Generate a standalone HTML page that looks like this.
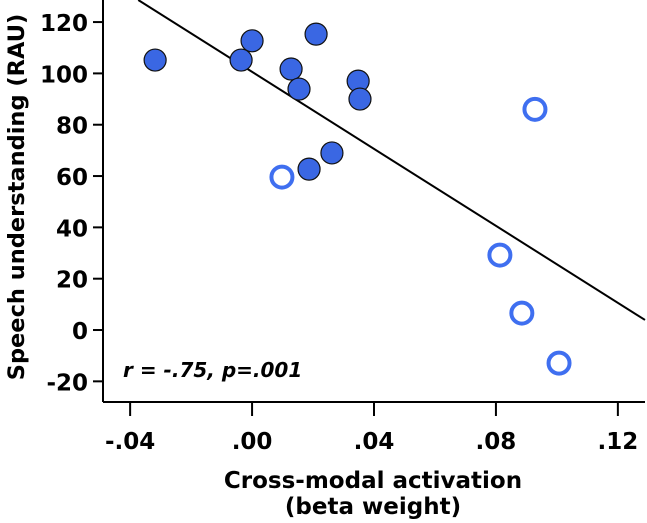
<!DOCTYPE html>
<html><head><meta charset="utf-8"><style>
html,body{margin:0;padding:0;background:#fff;}
svg{display:block;font-family:"DejaVu Sans","Liberation Sans",sans-serif;}
</style></head><body>
<svg id="chart" width="647" height="523" viewBox="0 0 647 523">
<g id="axes"></g>
<g id="marks"></g>
</svg>
<script>
const filledX = [-0.0318, 0.0, -0.0036, 0.021, 0.0128, 0.0154, 0.0187, 0.0262, 0.0348, 0.0354];
const filledY = [105.2, 112.7, 105.2, 115.3, 101.7, 93.9, 62.7, 69.0, 97.0, 90.0];
const openX = [0.0098, 0.0928, 0.0813, 0.0885, 0.1007];
const openY = [59.6, 86.0, 29.2, 6.6, -12.9];
const xTicks = [-0.04, 0.0, 0.04, 0.08, 0.12];
const xTickLabels = ["-.04", ".00", ".04", ".08", ".12"];
const yTicks = [-20, 0, 20, 40, 60, 80, 100, 120];
const fitIntercept = [100.6];
const fitSlope = [-750];

const NS = "http://www.w3.org/2000/svg";
const L = 103, R = 645, T = 0, B = 402;
const xMin = -0.0489, xMax = 0.1289, yMin = -28.05, yMax = 128.6;
const sx = v => L + (v - xMin) / (xMax - xMin) * (R - L);
const sy = v => B - (v - yMin) / (yMax - yMin) * (B - T);
function mk(tag, attrs, parent) {
  const e = document.createElementNS(NS, tag);
  for (const k in attrs) e.setAttribute(k, attrs[k]);
  parent.appendChild(e);
  return e;
}
const axes = document.getElementById("axes");
const marks = document.getElementById("marks");

let e = mk("line", {x1: L, y1: T, x2: L, y2: B, stroke: "#000", "stroke-width": 2}, axes);


e = mk("line", {x1: L, y1: B, x2: R, y2: B, stroke: "#000", "stroke-width": 2}, axes);



yTicks.forEach(v => {
  const y = sy(v);
  let t = mk("line", {x1: L - 10, y1: y, x2: L, y2: y, stroke: "#000", "stroke-width": 2}, axes);
  
  
  let lb = mk("text", {x: L - 15, y: y + 9, "text-anchor": "end", "font-size": 23, "font-weight": "bold"}, axes);
  lb.textContent = String(v);
  
  
});
xTicks.forEach((v, i) => {
  const x = sx(v);
  let t = mk("line", {x1: x, y1: B, x2: x, y2: B + 14, stroke: "#000", "stroke-width": 2}, axes);
  
  
  let lb = mk("text", {x: x, y: B + 47, "text-anchor": "middle", "font-size": 23, "font-weight": "bold"}, axes);
  lb.textContent = xTickLabels[i];
  
  
});

let yt = mk("text", {x: 0, y: 0, transform: "translate(24,197) rotate(-90)", "text-anchor": "middle", "font-size": 22.5, "font-weight": "bold"}, axes);
yt.textContent = "Speech understanding (RAU)";


let xt1 = mk("text", {x: 373, y: 488, "text-anchor": "middle", "font-size": 23, "font-weight": "bold"}, axes);
xt1.textContent = "Cross-modal activation";


let xt2 = mk("text", {x: 373, y: 514, "text-anchor": "middle", "font-size": 23, "font-weight": "bold"}, axes);
xt2.textContent = "(beta weight)";



let ann = mk("text", {x: 123, y: 377, "font-size": 20, "font-weight": "bold", "font-style": "italic"}, axes);
ann.textContent = 'r = -.75, p=.001';



const a = fitIntercept[0], b = fitSlope[0];
let x0 = xMin, y0 = a + b * x0;
if (y0 > yMax) { x0 = (yMax - a) / b; y0 = yMax; }
const x1 = xMax, y1 = a + b * x1;
let fl = mk("line", {x1: sx(x0), y1: sy(y0), x2: sx(x1), y2: sy(y1), stroke: "#000", "stroke-width": 2}, marks);



filledX.forEach((v, i) => {
  let c = mk("circle", {cx: sx(v), cy: sy(filledY[i]), r: 11, fill: "#3a67e3", stroke: "#111", "stroke-width": 1.2}, marks);
  
  
});
openX.forEach((v, i) => {
  let c = mk("circle", {cx: sx(v), cy: sy(openY[i]), r: 10.5, fill: "#fff", stroke: "#3f6ff0", "stroke-width": 4}, marks);
  
  
});
</script>
</body></html>
